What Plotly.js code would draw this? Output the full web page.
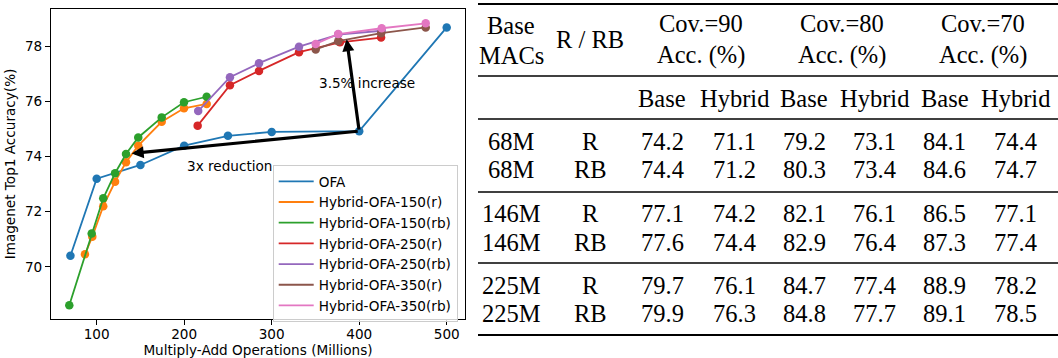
<!DOCTYPE html>
<html>
<head>
<meta charset="utf-8">
<script src="https://cdn.plot.ly/plotly-3.0.1.min.js"></script>
<style>html,body{margin:0;padding:0;background:#fff;}#chart{width:1058px;height:358px;}</style>
</head>
<body>
<div id="chart"></div>
<script>
// ---------- chart data ----------
const seriesNames = ['OFA','Hybrid-OFA-150(r)','Hybrid-OFA-150(rb)','Hybrid-OFA-250(r)','Hybrid-OFA-250(rb)','Hybrid-OFA-350(r)','Hybrid-OFA-350(rb)'];
const seriesColors = ['#1f77b4','#ff7f0e','#2ca02c','#d62728','#9467bd','#8c564b','#e377c2'];
const ofaX = [70, 100, 150, 200, 250, 300, 400, 500];
const ofaY = [70.4, 73.2, 73.7, 74.4, 74.76, 74.9, 74.93, 78.7];
const h150rX = [86.6, 95, 107.5, 121, 133.5, 147.5, 174.3, 199.8, 225.7];
const h150rY = [70.45, 71.09, 72.2, 73.09, 73.8, 74.4, 75.27, 75.76, 75.92];
const h150rbX = [68.7, 94.3, 107.5, 121, 133.5, 147.5, 174.3, 199.8, 225.7];
const h150rbY = [68.6, 71.21, 72.49, 73.4, 74.1, 74.7, 75.43, 75.98, 76.18];
const h250rX = [215.4, 252.3, 285.5, 331.2, 378, 425];
const h250rY = [75.13, 76.6, 77.12, 77.8, 78.16, 78.33];
const h250rbX = [216, 252.3, 285.5, 331.2, 376, 425.7];
const h250rbY = [75.66, 76.89, 77.4, 78.0, 78.44, 78.58];
const h350rX = [350.3, 376, 425, 476];
const h350rY = [77.9, 78.2, 78.49, 78.7];
const h350rbX = [350.3, 376, 425.7, 476];
const h350rbY = [78.1, 78.46, 78.67, 78.85];
const xTicks = [100, 200, 300, 400, 500];
const yTicks = [70, 72, 74, 76, 78];

// ---------- table data ----------
const tableHeadLeft = ['Base', 'MACs', 'R / RB'];
const covLevels = ['Cov.=90', 'Cov.=80', 'Cov.=70'];
const accLabel = 'Acc. (%)';
const subHeads = ['Base', 'Hybrid'];
const macs = ['68M', '68M', '146M', '146M', '225M', '225M'];
const rrb = ['R', 'RB', 'R', 'RB', 'R', 'RB'];
const cov90Base = [74.2, 74.4, 77.1, 77.6, 79.7, 79.9];
const cov90Hybrid = [71.1, 71.2, 74.2, 74.4, 76.1, 76.3];
const cov80Base = [79.2, 80.3, 82.1, 82.9, 84.7, 84.8];
const cov80Hybrid = [73.1, 73.4, 76.1, 76.4, 77.4, 77.7];
const cov70Base = [84.1, 84.6, 86.5, 87.3, 88.9, 89.1];
const cov70Hybrid = [74.4, 74.7, 77.1, 77.4, 78.2, 78.5];

// ---------- layout helpers ----------
const W = 1058, H = 358;
const PL = 51, PR = 465, PT = 9, PB = 319;
const px = v => (v - PL) / (PR - PL);
const py = v => (PB - v) / (PB - PT);

const sans = 'DejaVu Sans, sans-serif';
const serif = 'Liberation Serif, Times New Roman, serif';
const fs = 13.6;

const allX = [ofaX, h150rX, h150rbX, h250rX, h250rbX, h350rX, h350rbX];
const allY = [ofaY, h150rY, h150rbY, h250rY, h250rbY, h350rY, h350rbY];
const traces = [];
for (let i = 0; i < seriesNames.length; i++) {
  traces.push({x: allX[i], y: allY[i], type: 'scatter', mode: 'lines', name: seriesNames[i],
    line: {color: seriesColors[i], width: 1.8}});
  traces.push({x: allX[i], y: allY[i], type: 'scatter', mode: 'markers', name: seriesNames[i],
    marker: {color: seriesColors[i], size: 8.5}, showlegend: false});
}

const annotations = [
  {x: 140, y: 74.12, ax: 400, ay: 74.93, xref: 'x', yref: 'y', axref: 'x', ayref: 'y',
   text: '', showarrow: true, arrowhead: 2, arrowsize: 0.75, arrowwidth: 3.2, arrowcolor: '#000'},
  {x: 385.7, y: 78.27, ax: 400, ay: 74.93, xref: 'x', yref: 'y', axref: 'x', ayref: 'y',
   text: '', showarrow: true, arrowhead: 2, arrowsize: 0.75, arrowwidth: 3.2, arrowcolor: '#000'},
  {x: 351.4, y: 76.67, xref: 'x', yref: 'y', text: '3.5% increase', showarrow: false,
   xanchor: 'left', yanchor: 'middle', font: {family: sans, size: fs, color: '#000'}},
  {x: 200.9, y: 73.66, xref: 'x', yref: 'y', text: '3x reduction', showarrow: false,
   xanchor: 'left', yanchor: 'middle', font: {family: sans, size: fs, color: '#000'}}
];

// ---------- table ----------
const tfs = 24.5;
const colX = [511, 590, 662, 734, 804, 874, 945, 1015];
const rowY = [141, 170, 213, 242, 285, 313];
function tAnn(text, x, y) {
  annotations.push({x: px(x), y: py(y), xref: 'paper', yref: 'paper', text: text, showarrow: false,
    xanchor: 'center', yanchor: 'middle', font: {family: serif, size: tfs, color: '#000'}});
}
tAnn(tableHeadLeft[0], colX[0], 25);
tAnn(tableHeadLeft[1], colX[0], 55);
tAnn(tableHeadLeft[2], colX[1], 39);
for (let k = 0; k < 3; k++) {
  const cx = (colX[2 + 2 * k] + colX[3 + 2 * k]) / 2;
  tAnn(covLevels[k], cx + 3, 23);
  tAnn(accLabel, cx + 3, 55);
  tAnn(subHeads[0], colX[2 + 2 * k], 98);
  tAnn(subHeads[1], colX[3 + 2 * k], 98);
}
const valCols = [cov90Base, cov90Hybrid, cov80Base, cov80Hybrid, cov70Base, cov70Hybrid];
for (let r = 0; r < macs.length; r++) {
  tAnn(macs[r], colX[0], rowY[r]);
  tAnn(rrb[r], colX[1], rowY[r]);
  for (let c = 0; c < valCols.length; c++) tAnn(valCols[c][r].toFixed(1), colX[2 + c], rowY[r]);
}
const shapes = [];
function hline(y, w) {
  shapes.push({type: 'line', xref: 'paper', yref: 'paper', x0: px(478), x1: px(1058), y0: py(y), y1: py(y),
    line: {color: '#000', width: w}});
}
hline(4, 2.2); hline(76, 1.3); hline(119, 1.3); hline(192, 1.3); hline(263, 1.3); hline(335, 2.2);

const layout = {
  width: W, height: H,
  margin: {l: PL, r: W - PR, t: PT, b: H - PB, pad: 0, autoexpand: false},
  paper_bgcolor: '#fff', plot_bgcolor: '#fff',
  font: {family: sans, size: fs, color: '#000'},
  showlegend: true,
  legend: {x: px(272.7), y: py(165), xanchor: 'left', yanchor: 'top', bgcolor: 'rgba(255,255,255,0.8)',
    bordercolor: '#cccccc', borderwidth: 1, tracegroupgap: 0, itemwidth: 35,
    font: {family: sans, size: fs, color: '#000'}},
  xaxis: {range: [47.8, 520.9], tickvals: xTicks, ticktext: xTicks.map(String), ticks: 'outside', ticklen: 5,
    tickwidth: 1, tickcolor: '#000', showline: true, linecolor: '#000', linewidth: 1, mirror: true,
    showgrid: false, zeroline: false, ticklabelstandoff: -2, tickfont: {family: sans, size: fs, color: '#000'},
    title: {text: 'Multiply-Add Operations (Millions)', font: {family: sans, size: fs, color: '#000'}, standoff: 3}},
  yaxis: {range: [68.1, 79.37], tickvals: yTicks, ticktext: yTicks.map(String), ticks: 'outside', ticklen: 5,
    tickwidth: 1, tickcolor: '#000', showline: true, linecolor: '#000', linewidth: 1, mirror: true,
    showgrid: false, zeroline: false, tickfont: {family: sans, size: fs, color: '#000'},
    title: {text: 'Imagenet Top1 Accuracy(%)', font: {family: sans, size: fs, color: '#000'}, standoff: 6}},
  annotations: annotations,
  shapes: shapes
};
Plotly.newPlot('chart', traces, layout, {displayModeBar: false, staticPlot: true});
</script>
</body>
</html>
